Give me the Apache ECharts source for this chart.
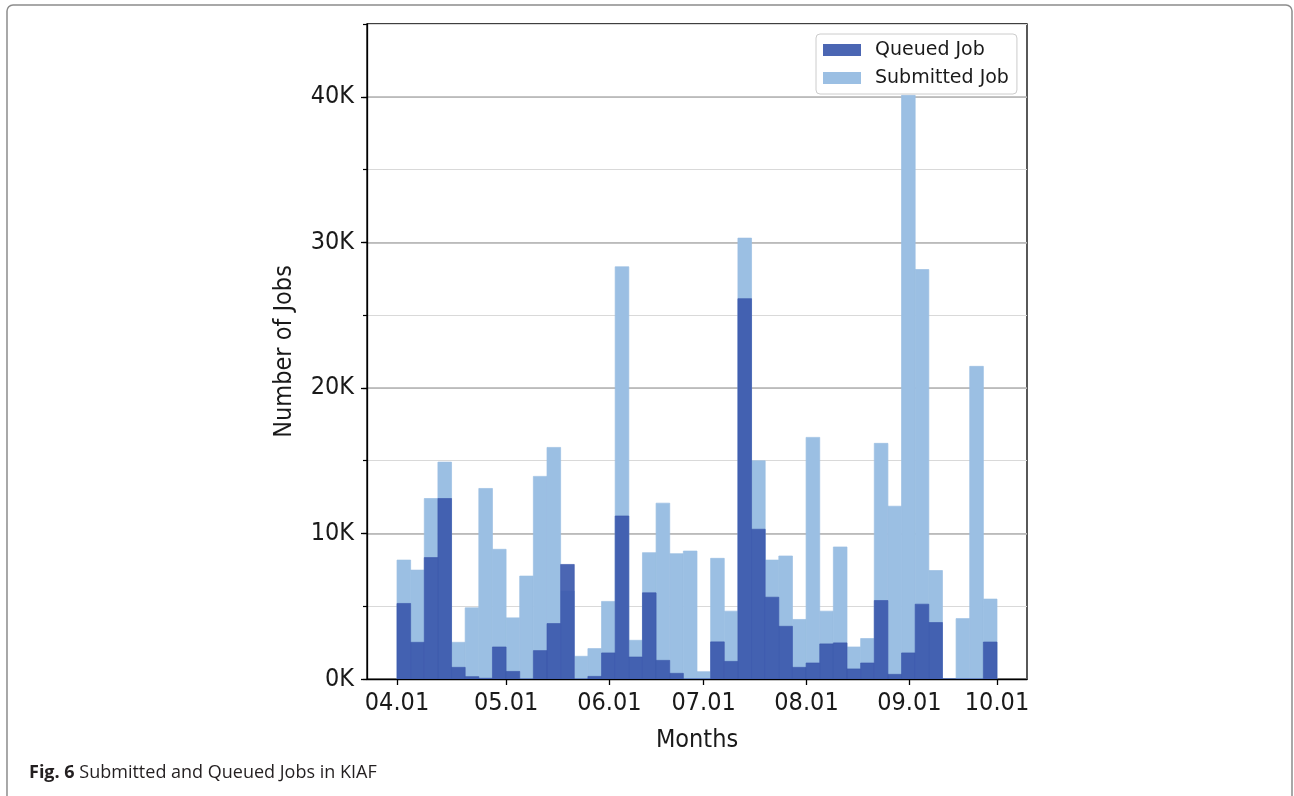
<!DOCTYPE html>
<html>
<head>
<meta charset="utf-8">
<script src="https://cdn.jsdelivr.net/npm/echarts@6/dist/echarts.min.js"></script>
<style>
  html, body { margin: 0; padding: 0; background: #ffffff; }
  #chart { width: 1294px; height: 796px; }
</style>
</head>
<body>
<div id="chart"></div>
<script>
// Jobs per time bin, in thousands (44 equal-width bins between 04.01 and 10.01)
const submittedJobs = [
  8.17, 7.48, 12.40, 14.90, 2.52, 4.89, 13.09, 8.91, 4.20, 7.07, 13.92,
  15.91, 6.04, 1.56, 2.09, 5.33, 28.32, 2.66, 8.68, 12.08, 8.61, 8.79,
  0.50, 8.29, 4.66, 30.29, 14.99, 8.17, 8.45, 4.09, 16.60, 4.66, 9.07,
  2.20, 2.78, 16.19, 11.87, 40.10, 28.13, 7.45, 0.00, 4.15, 21.48, 5.49
];
const queuedJobs = [
  5.19, 2.52, 8.34, 12.40, 0.80, 0.16, 0.05, 2.20, 0.52, 0.00, 1.95,
  3.81, 7.87, 0.00, 0.18, 1.79, 11.20, 1.51, 5.92, 1.28, 0.39, 0.00,
  0.00, 2.55, 1.21, 26.13, 10.29, 5.62, 3.62, 0.80, 1.10, 2.41, 2.48,
  0.69, 1.10, 5.39, 0.32, 1.79, 5.14, 3.88, 0.00, 0.00, 0.00, 2.54
];
// Month tick labels and where they fall, measured in bins
const monthLabels = ['04.01', '05.01', '06.01', '07.01', '08.01', '09.01', '10.01'];
const monthTickPos = [0, 8, 15.57, 22.49, 30.03, 37.57, 44];
// Labelled y ticks (thousands)
const yTickValues = [0, 10, 20, 30, 40];

const tickFont = "'DejaVu Sans Condensed', 'DejaVu Sans', sans-serif";
const legendFont = "'DejaVu Sans', sans-serif";

// One histogram bin: a rectangle from [i, 0] to [i + 1, value]
function histRect(params, api) {
  const i = api.value(0);
  const v = api.value(1);
  const base = api.coord([i, 0]);
  const top = api.coord([i + 1, v]);
  const color = api.visual('color');
  return {
    type: 'rect',
    shape: { x: base[0], y: top[1], width: top[0] - base[0], height: base[1] - top[1] },
    style: Object.assign(api.style(), { stroke: color, lineWidth: 0.7 })
  };
}

const chart = echarts.init(document.getElementById('chart'), null, { renderer: 'canvas' });

chart.setOption({
  animation: false,
  backgroundColor: '#ffffff',
  title: {
    left: 24, top: 759,
    text: '{b|Fig. 6} Submitted and Queued Jobs in KIAF',
    textStyle: {
      fontFamily: "'Open Sans', sans-serif", fontSize: 18, fontWeight: 'normal', color: '#231f20',
      rich: { b: { fontFamily: "'Open Sans', sans-serif", fontSize: 18, fontWeight: 'bold', color: '#231f20' } }
    }
  },
  graphic: [{
    type: 'rect', silent: true, z: -1,
    shape: { x: 7, y: 5, width: 1285, height: 840, r: 6 },
    style: { fill: 'none', stroke: '#8c8c8c', lineWidth: 1.5 }
  }],
  legend: {
    orient: 'vertical',
    left: 816, top: 34,
    padding: [6, 8, 6, 7],
    itemGap: 8,
    itemWidth: 38, itemHeight: 12,
    backgroundColor: 'rgba(255,255,255,0.9)',
    borderColor: '#cccccc', borderWidth: 1, borderRadius: 4,
    icon: 'rect',
    textStyle: { fontFamily: legendFont, fontSize: 19, color: '#1a1a1a', lineHeight: 20, padding: [0, 0, 0, 9] },
    data: ['Queued Job', 'Submitted Job']
  },
  grid: {
    left: 367, top: 24, width: 660, height: 655,
    show: true, borderColor: '#000000', borderWidth: 1.3, backgroundColor: '#ffffff'
  },
  xAxis: {
    type: 'value', min: -2.2, max: 46.2,
    name: 'Months', nameLocation: 'middle', nameGap: 49,
    nameTextStyle: { fontFamily: tickFont, fontSize: 25, color: '#1a1a1a' },
    axisLine: { show: true, onZero: false, lineStyle: { color: '#000000', width: 1.3 } },
    axisTick: { show: true, length: 6, customValues: monthTickPos, lineStyle: { color: '#000000', width: 1.3 } },
    axisLabel: {
      customValues: monthTickPos, margin: 12,
      fontFamily: tickFont, fontSize: 25, color: '#1a1a1a',
      formatter: (v) => { const k = monthTickPos.indexOf(v); return k >= 0 ? monthLabels[k] : ''; }
    },
    splitLine: { show: false }
  },
  yAxis: [{
    // every 5K: light grid lines and short ticks
    type: 'value', min: 0, max: 45, interval: 5, position: 'left',
    axisLine: { show: false, onZero: false },
    axisTick: { show: true, length: 4, lineStyle: { color: '#000000', width: 1.2 } },
    axisLabel: { show: false },
    splitLine: { show: true, lineStyle: { color: '#d9d9d9', width: 1 } }
  }, {
    // every 10K: darker grid lines, labels and the axis title
    type: 'value', min: 0, max: 45, interval: 10, position: 'left',
    name: 'Number of Jobs', nameLocation: 'middle', nameGap: 70,
    nameTextStyle: { fontFamily: tickFont, fontSize: 25, color: '#1a1a1a' },
    axisLine: { show: true, onZero: false, lineStyle: { color: '#000000', width: 1.3 } },
    axisTick: { show: true, length: 6, customValues: yTickValues, lineStyle: { color: '#000000', width: 1.3 } },
    axisLabel: {
      customValues: yTickValues, margin: 13,
      fontFamily: tickFont, fontSize: 25, color: '#1a1a1a',
      formatter: (v) => v + 'K'
    },
    splitLine: { show: true, lineStyle: { color: '#b0b0b0', width: 1.5 } }
  }],
  series: [{
    name: 'Submitted Job',
    type: 'custom',
    renderItem: histRect,
    clip: true,
    xAxisIndex: 0, yAxisIndex: 1,
    encode: { x: 0, y: 1 },
    itemStyle: { color: '#9bbfe3' },
    data: submittedJobs.map((v, i) => [i, v])
  }, {
    name: 'Queued Job',
    type: 'custom',
    renderItem: histRect,
    clip: true,
    xAxisIndex: 0, yAxisIndex: 1,
    encode: { x: 0, y: 1 },
    itemStyle: { color: '#3c59ac', opacity: 0.92 },
    data: queuedJobs.map((v, i) => [i, v])
  }]
});
</script>
</body>
</html>
